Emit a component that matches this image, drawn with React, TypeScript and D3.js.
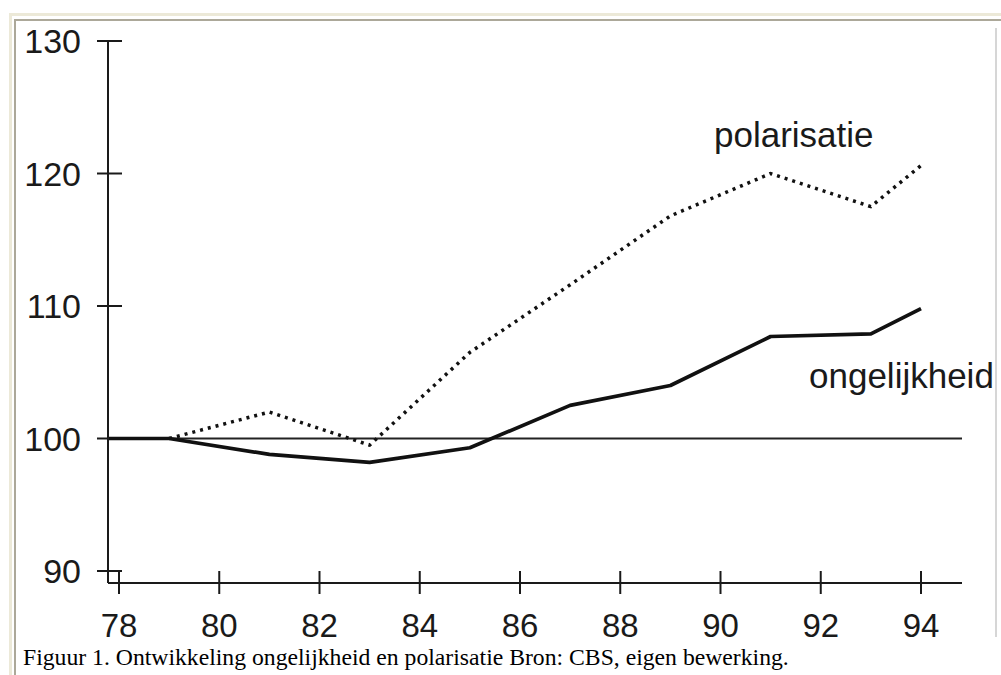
import React from "react";
import * as d3 from "d3";

// data (index 1978 = 100)
const solidYears = [77.8, 79, 81, 83, 85, 87, 89, 91, 93, 94];
const ongelijkheid = [100, 100, 98.8, 98.2, 99.3, 102.5, 104.0, 107.7, 107.9, 109.8];
const dottedYears = [79, 81, 83, 85, 87, 89, 91, 93, 94];
const polarisatie = [100, 102.0, 99.5, 106.5, 111.6, 116.8, 120.0, 117.5, 120.6];
const xTicks = [78, 80, 82, 84, 86, 88, 90, 92, 94];
const yTicks = [90, 100, 110, 120, 130];
const caption = "Figuur 1. Ontwikkeling ongelijkheid en polarisatie Bron: CBS, eigen bewerking.";

const W = 1001;
const H = 675;

export default function App() {
  const x = d3.scaleLinear().domain([78, 94]).range([119, 921]);
  const y = d3.scaleLinear().domain([90, 130]).range([571, 41]);
  const axisX0 = 108;
  const axisY0 = 583;
  const axisX1 = 962;

  const line = d3
    .line<[number, number]>()
    .x((d) => x(d[0]))
    .y((d) => y(d[1]));

  const solid = line(solidYears.map((yr, i) => [yr, ongelijkheid[i]]));
  const dotted = line(dottedYears.map((yr, i) => [yr, polarisatie[i]]));

  const font = "'Liberation Sans', Arial, Helvetica, sans-serif";
  const ink = "#1a1a1a";

  return (
    <svg
      width={W}
      height={H}
      style={{ position: "absolute", left: 0, top: 0, background: "#fff" }}
    >
      {/* page frame */}
      <rect x={9} y={13} width={W} height={3} fill="#ece9d8" />
      <rect x={9} y={13} width={3} height={H} fill="#ece9d8" />
      <rect x={14} y={19} width={W} height={2} fill="#aca899" />
      <rect x={14} y={19} width={2} height={H} fill="#aca899" />
      <rect x={995} y={28} width={2} height={609} fill="#d6d6d6" />

      {/* axes */}
      <line x1={axisX0} x2={axisX0} y1={y(130)} y2={axisY0} stroke={ink} strokeWidth={2} />
      <line x1={axisX0} x2={axisX1} y1={axisY0} y2={axisY0} stroke={ink} strokeWidth={2} />
      {yTicks.map((t) => (
        <g key={t}>
          <line x1={97} x2={122} y1={y(t)} y2={y(t)} stroke={ink} strokeWidth={2} />
          <text
            x={81}
            y={y(t)}
            dy="0.36em"
            textAnchor="end"
            fontFamily={font}
            fontSize={34}
            fill={ink}
          >
            {t}
          </text>
        </g>
      ))}
      {xTicks.map((t) => (
        <g key={t}>
          <line x1={x(t)} x2={x(t)} y1={571} y2={594} stroke={ink} strokeWidth={2} />
          <text
            x={x(t)}
            y={637}
            textAnchor="middle"
            fontFamily={font}
            fontSize={33}
            fill={ink}
          >
            {t}
          </text>
        </g>
      ))}

      {/* reference line at 100 */}
      <line x1={axisX0} x2={axisX1} y1={y(100)} y2={y(100)} stroke="#222" strokeWidth={2.2} />

      {/* series */}
      <path d={dotted ?? ""} fill="none" stroke="#111" strokeWidth={3.5} strokeDasharray="3 5" />
      <path d={solid ?? ""} fill="none" stroke="#111" strokeWidth={3.7} strokeLinejoin="round" />

      <text x={714} y={147} fontFamily={font} fontSize={35} fill={ink}>
        polarisatie
      </text>
      <text x={809} y={388} fontFamily={font} fontSize={35} fill={ink}>
        ongelijkheid
      </text>

      <text
        x={23}
        y={665}
        fontFamily="'Liberation Serif', 'Times New Roman', serif"
        fontSize={23.7}
        fill="#000"
      >
        {caption}
      </text>
    </svg>
  );
}
